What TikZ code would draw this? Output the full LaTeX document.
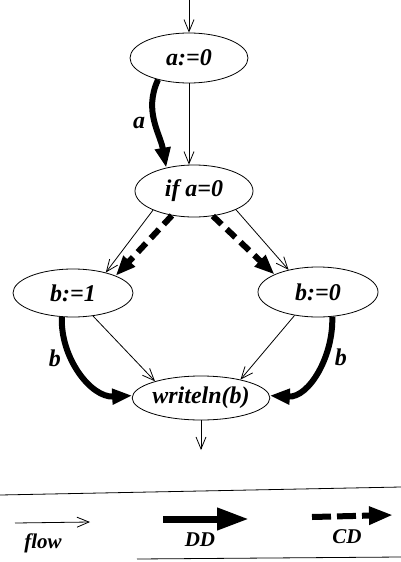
\documentclass[tikz,border=0pt]{standalone}
\usepackage{fontspec}
\setmainfont{Liberation Serif}
\usepackage{tikz}
\usetikzlibrary{shapes.geometric,arrows.meta}

\tikzset{
  state/.style={draw, ellipse, line width=0.8pt, inner sep=0pt,
    font=\fontsize{24}{26}\selectfont\bfseries\itshape},
  flow/.style={line width=0.8pt, -{Straight Barb[length=12pt,width=10pt,line width=0.8pt]}},
  dd/.style={line width=6pt, -{Triangle[length=20pt,width=15pt]}},
  cd/.style={dd, dash pattern=on 12pt off 7pt},
  lbl/.style={font=\fontsize{24}{26}\selectfont\bfseries\itshape},
  legtext/.style={font=\fontsize{21}{23}\selectfont\bfseries\itshape}
}

\begin{document}
\begin{tikzpicture}[x=1pt,y=-1pt]
\useasboundingbox (0,0) rectangle (401,562);
% Nodes
\node[state, minimum width=118pt, minimum height=50pt] (a0) at (189,58) {a:=0};
\node[state, minimum width=118pt, minimum height=52pt] (ifa) at (194,191) {if a=0};
\node[state, minimum width=120pt, minimum height=48pt] (b1) at (73,293) {b:=1};
\node[state, minimum width=120pt, minimum height=50pt] (b0) at (318,292) {b:=0};
\node[state, minimum width=126pt, minimum height=44pt] (wr) at (201,398) {writeln(b)};
\coordinate (in) at (189,0);
\coordinate (out) at (201,450);

% Control flow
\draw[flow] (in) -- (a0.north);
\draw[flow] (a0.south) -- (a0.south |- ifa.north);
\draw[flow] (ifa.205) -- (b1.32);
\draw[flow] (ifa.336) -- (b0.143);
\draw[flow] (b1.311) -- (wr.160);
\draw[flow] (b0.225) -- (wr.25);
\draw[flow] (wr.south) -- (out);

% Data dependences
\draw[dd] (a0.215) to[out=-115,in=100] node[lbl, left=3pt] {a} (ifa.140);
\draw[dd] (b1.245) to[out=-92,in=183] node[lbl, pos=0.35, left=4pt] {b} (wr.178);
\draw[dd] (b0.300) to[out=-88,in=-3] node[lbl, pos=0.35, right=4pt] {b} (wr.2);

% Control dependences
\draw[cd] (ifa.228) -- (b1.22);
\draw[cd] (ifa.307) -- (b0.158);

% Legend
\draw[line width=0.8pt] (0,495) -- (401,487);
\draw[line width=0.8pt] (137,559) -- (401,557);
\draw[flow] (15,523) -- (90,522);
\node[legtext] at (43,543) {flow};
\draw[dd, line width=7pt, -{Triangle[length=32pt,width=21pt]}] (163,519) -- (249,519);
\node[legtext] at (200,540) {DD};
\draw[cd, line width=6pt, dash pattern=on 19pt off 6pt, -{Triangle[length=24pt,width=17pt]}] (312,517) -- (393,515);
\node[legtext] at (347,537) {CD};
\end{tikzpicture}
\end{document}
